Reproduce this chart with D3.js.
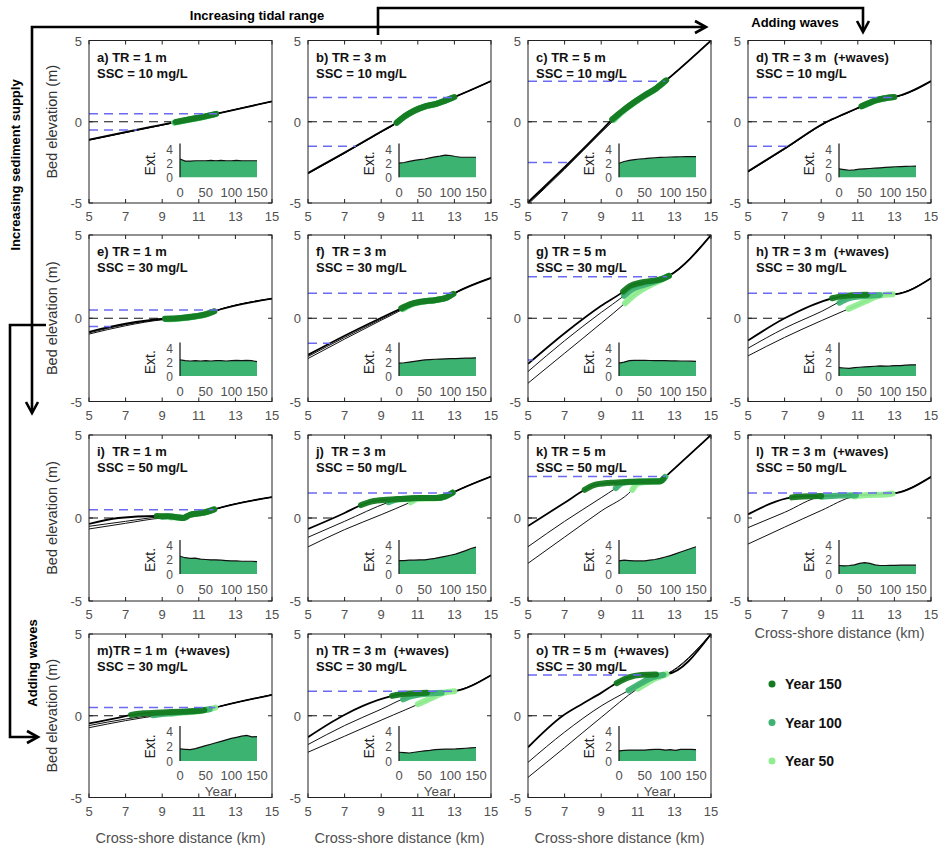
<!DOCTYPE html>
<html><head><meta charset="utf-8">
<script src="https://cdn.jsdelivr.net/npm/d3@7"></script>
<style>body{margin:0;background:#fff} text{font-family:"Liberation Sans",Arial,sans-serif;white-space:pre}</style>
</head><body><svg id="c" width="942" height="845"></svg>
<script>
// ---------------- DATA ----------------
const panelLabels = ["a) TR = 1 m","b) TR = 3 m","c) TR = 5 m","d) TR = 3 m  (+waves)",
  "e) TR = 1 m","f)  TR = 3 m","g) TR = 5 m","h) TR = 3 m  (+waves)",
  "i)  TR = 1 m","j)  TR = 3 m","k) TR = 5 m","l)  TR = 3 m  (+waves)",
  "m)TR = 1 m  (+waves)","n) TR = 3 m  (+waves)","o) TR = 5 m  (+waves)"];
const sscLabels = ["SSC = 10 mg/L","SSC = 10 mg/L","SSC = 10 mg/L","SSC = 10 mg/L",
  "SSC = 30 mg/L","SSC = 30 mg/L","SSC = 30 mg/L","SSC = 30 mg/L",
  "SSC = 50 mg/L","SSC = 50 mg/L","SSC = 50 mg/L","SSC = 50 mg/L",
  "SSC = 30 mg/L","SSC = 30 mg/L","SSC = 30 mg/L"];
const tidalRange = [1,3,5,3, 1,3,5,3, 1,3,5,3, 1,3,5];

// bed profiles [distance km, elevation m]
const profile150 = [
  [[5,-1.1],[9.7,-0.02],[10.5,0.15],[11.2,0.3],[12,0.5],[15,1.25]],
  [[5,-3.15],[7,-1.9],[9,-0.6],[9.85,-0.05],[10.3,0.35],[10.8,0.68],[11.4,0.95],[12,1.1],[12.5,1.3],[13,1.52],[15,2.5]],
  [[5,-4.95],[7,-2.8],[9,-0.55],[9.6,0.15],[10.2,0.7],[10.8,1.2],[11.4,1.65],[12,2.05],[12.55,2.55],[15,5]],
  [[5,-3.05],[7,-1.65],[9.3,0],[10.3,0.5],[11.2,0.95],[11.6,1.15],[12,1.33],[12.5,1.45],[13,1.52],[15,2.5]],
  [[5,-0.82],[6.2,-0.5],[7,-0.33],[9.1,-0.03],[10,0.02],[10.8,0.12],[11.4,0.25],[11.85,0.42],[15,1.18]],
  [[5,-2.2],[7,-1.05],[8.95,0],[10.1,0.6],[10.6,0.85],[11.2,1.0],[12,1.1],[12.6,1.25],[13,1.5],[15,2.42]],
  [[5,-2.74],[7,-0.9],[9,0.75],[10.2,1.6],[10.6,1.95],[11.2,2.15],[11.8,2.25],[12.3,2.35],[12.7,2.55],[15,5]],
  [[5,-1.34],[7,0],[9.6,1.2],[10,1.3],[11,1.4],[12,1.42],[13.05,1.45],[15,2.4]],
  [[5,-0.36],[6.6,0],[8.7,0.12],[9.3,0.1],[9.8,0.05],[10.15,0],[10.5,0.18],[11,0.28],[11.4,0.36],[11.85,0.52],[15,1.26]],
  [[5,-0.66],[7,0.3],[7.9,0.78],[8.5,1.0],[9.3,1.1],[10,1.15],[11,1.2],[12,1.2],[12.5,1.3],[12.95,1.55],[15,2.5]],
  [[5,-0.48],[7,0.92],[8.1,1.7],[8.6,1.98],[9.5,2.12],[10.5,2.18],[11.5,2.2],[12.25,2.22],[12.55,2.52],[15,5]],
  [[5,0.22],[7.38,1.24],[8,1.3],[9,1.32],[10,1.35],[11,1.38],[12,1.42],[13.05,1.5],[15,2.48]],
  [[5,-0.47],[6.5,-0.15],[7.3,0.05],[8,0.15],[9,0.2],[10,0.25],[11,0.3],[11.5,0.38],[11.97,0.52],[15,1.28]],
  [[5,-1.31],[6.9,0],[8,0.6],[9.55,1.2],[10,1.3],[11,1.38],[12,1.42],[13,1.5],[15,2.48]],
  [[5,-1.93],[6.9,0],[8,0.75],[9,1.4],[9.85,2.0],[10.5,2.35],[11.2,2.5],[12.57,2.55],[15,5]]
];
const profile100 = [
  [[5,-1.12],[9.7,-0.04],[10.5,0.14],[11.2,0.29],[12,0.5],[15,1.25]],
  [[5,-3.18],[7,-1.92],[9,-0.62],[9.85,-0.06],[10.3,0.34],[10.8,0.67],[11.4,0.94],[12,1.1],[12.5,1.3],[13,1.52],[15,2.5]],
  [[5,-5.02],[7,-2.86],[9,-0.6],[9.62,0.1],[10.2,0.68],[10.8,1.18],[11.4,1.63],[12,2.04],[12.55,2.55],[15,5]],
  [[5,-3.08],[7,-1.67],[9.3,-0.02],[10.3,0.49],[11.2,0.94],[11.6,1.14],[12,1.32],[12.5,1.45],[13,1.52],[15,2.5]],
  [[5,-0.88],[7,-0.38],[9.1,-0.05],[10,0.0],[10.8,0.11],[11.4,0.24],[11.85,0.42],[15,1.18]],
  [[5,-2.3],[7,-1.15],[9,-0.05],[10.15,0.58],[10.6,0.83],[11.2,0.99],[12,1.1],[12.6,1.25],[13,1.5],[15,2.42]],
  [[5,-3.2],[7,-1.35],[9,0.35],[10.25,1.35],[10.7,1.75],[11.3,2.0],[11.9,2.2],[12.4,2.4],[12.7,2.55],[15,5]],
  [[5,-1.8],[7,-0.6],[9,0.4],[10.5,1.2],[11.5,1.35],[12.5,1.42],[13.05,1.45],[15,2.4]],
  [[5,-0.5],[7,-0.2],[9,0.08],[9.3,0.1],[9.8,0.05],[10.15,0],[10.5,0.18],[11,0.28],[11.4,0.36],[11.85,0.52],[15,1.26]],
  [[5,-1.16],[7,-0.2],[9.4,0.95],[9.8,1.1],[10.5,1.16],[11,1.2],[12,1.2],[12.5,1.3],[12.95,1.55],[15,2.5]],
  [[5,-1.73],[7,-0.2],[9,1.22],[9.8,1.8],[10.2,2.12],[10.8,2.17],[11.5,2.2],[12.25,2.22],[12.55,2.52],[15,5]],
  [[5,-0.58],[7,0.34],[9,1.28],[10,1.35],[11,1.38],[12,1.42],[13.05,1.5],[15,2.48]],
  [[5,-0.6],[7,-0.2],[9,0.1],[10,0.22],[11,0.3],[11.5,0.38],[11.97,0.52],[15,1.28]],
  [[5,-1.76],[7,-0.6],[9,0.4],[10.5,1.15],[11.5,1.35],[12.5,1.42],[13,1.5],[15,2.48]],
  [[5,-2.85],[7,-1.0],[9,0.6],[10.5,1.55],[11.1,1.95],[11.8,2.35],[12.57,2.55],[15,5]]
];
const profile50 = [
  [[5,-1.14],[9.7,-0.05],[10.5,0.13],[11.2,0.28],[12,0.5],[15,1.25]],
  [[5,-3.2],[7,-1.94],[9,-0.64],[9.85,-0.07],[10.3,0.33],[10.8,0.66],[11.4,0.93],[12,1.09],[12.5,1.3],[13,1.52],[15,2.5]],
  [[5,-5.08],[7,-2.92],[9,-0.66],[9.65,0.05],[10.2,0.66],[10.8,1.16],[11.4,1.61],[12,2.03],[12.55,2.55],[15,5]],
  [[5,-3.1],[7,-1.69],[9.3,-0.04],[10.3,0.48],[11.2,0.93],[11.6,1.13],[12,1.31],[12.5,1.45],[13,1.52],[15,2.5]],
  [[5,-0.95],[7,-0.45],[9.1,-0.08],[10,-0.01],[10.8,0.1],[11.4,0.23],[11.85,0.42],[15,1.18]],
  [[5,-2.42],[7,-1.25],[9,-0.12],[10.2,0.55],[10.6,0.8],[11.2,0.98],[12,1.09],[12.6,1.25],[13,1.5],[15,2.42]],
  [[5,-3.9],[7,-2.1],[9,-0.3],[10.3,0.9],[10.7,1.3],[11.2,1.7],[11.8,2.05],[12.3,2.3],[12.7,2.55],[15,5]],
  [[5,-2.26],[7,-1.15],[9,-0.15],[11.4,1.0],[12,1.3],[12.6,1.42],[13.05,1.45],[15,2.4]],
  [[5,-0.66],[7,-0.32],[9,0.0],[9.8,0.04],[10.15,0],[10.5,0.18],[11,0.28],[11.4,0.36],[11.85,0.52],[15,1.26]],
  [[5,-1.74],[7,-0.7],[9,0.2],[10.6,0.95],[11.0,1.15],[12,1.19],[12.5,1.3],[12.95,1.55],[15,2.5]],
  [[5,-2.73],[7,-1.15],[9,0.42],[10.7,1.7],[11.0,2.08],[11.6,2.18],[12.25,2.22],[12.55,2.52],[15,5]],
  [[5,-1.57],[7,-0.55],[9,0.45],[10.8,1.3],[11.5,1.38],[12.5,1.42],[13.05,1.5],[15,2.48]],
  [[5,-0.73],[7,-0.3],[9,0.05],[10,0.18],[11,0.28],[11.5,0.38],[11.97,0.52],[15,1.28]],
  [[5,-2.23],[7,-1.25],[9,-0.27],[11.7,1.05],[12.2,1.32],[12.6,1.45],[13,1.5],[15,2.48]],
  [[5,-3.77],[7,-1.95],[9,-0.1],[11.0,1.66],[11.5,2.0],[12.0,2.3],[12.57,2.55],[15,5]]
];
// vegetated marsh extent [from km, to km]
const marsh150 = [[9.75,11.95],[9.85,13.0],[9.6,12.55],[11.2,13.0],[9.15,11.85],[10.1,12.95],[10.2,12.7],[9.6,11.5],
  [8.7,11.85],[7.9,12.9],[8.1,12.4],[7.4,9.0],[7.3,11.3],[9.6,11.5],[9.85,12.0]];
const marsh100 = [[9.7,11.9],[9.85,12.9],[9.65,12.5],[11.25,12.9],[9.2,11.8],[10.15,12.9],[10.25,12.7],[10.0,12.2],
  [9.0,11.8],[9.4,12.9],[9.8,12.5],[9.0,10.9],[8.5,11.6],[10.2,12.3],[10.5,12.4]];
const marsh50 = [[9.65,11.85],[9.85,12.8],[9.7,12.45],[11.3,12.8],[9.3,11.7],[10.2,12.8],[10.3,12.7],[10.5,12.9],
  [9.5,11.75],[10.6,12.9],[10.7,12.5],[10.8,12.9],[9.5,11.9],[11.0,13.0],[11.0,12.57]];

// marsh extent time series (inset), years 0..150
const extentYears = [0,10,20,30,40,50,60,70,80,90,100,110,120,130,140,150];
const extent = [
  [2.6,2.3,2.3,2.35,2.35,2.35,2.4,2.35,2.4,2.35,2.35,2.4,2.35,2.35,2.35,2.35],
  [2.0,2.1,2.25,2.4,2.5,2.6,2.75,2.9,3.0,3.15,3.1,2.95,2.85,2.85,2.85,2.85],
  [2.0,2.25,2.4,2.5,2.6,2.65,2.72,2.78,2.82,2.85,2.88,2.9,2.92,2.95,2.95,2.95],
  [1.2,1.1,1.0,1.05,1.15,1.2,1.25,1.3,1.35,1.4,1.45,1.5,1.52,1.55,1.57,1.6],
  [2.3,2.2,2.15,2.2,2.15,2.2,2.15,2.2,2.2,2.15,2.2,2.25,2.2,2.25,2.2,2.05],
  [1.85,1.9,2.0,2.1,2.2,2.3,2.35,2.4,2.42,2.45,2.48,2.5,2.52,2.55,2.57,2.6],
  [1.85,2.0,2.2,2.25,2.25,2.25,2.22,2.2,2.2,2.2,2.18,2.18,2.15,2.15,2.12,2.1],
  [1.2,1.15,1.1,1.2,1.25,1.3,1.35,1.4,1.45,1.42,1.45,1.5,1.5,1.55,1.6,1.6],
  [2.5,2.3,2.2,2.25,2.1,2.05,2.0,2.0,1.95,1.9,1.85,1.85,1.8,1.8,1.8,1.75],
  [1.9,1.9,1.95,1.95,2.0,2.0,2.1,2.2,2.35,2.5,2.65,2.8,3.05,3.3,3.6,3.8],
  [1.85,1.95,1.9,1.85,1.85,1.85,1.95,2.05,2.2,2.4,2.6,2.85,3.1,3.35,3.6,3.85],
  [1.2,1.15,1.2,1.3,1.5,1.6,1.5,1.3,1.2,1.2,1.22,1.22,1.25,1.25,1.25,1.25],
  [1.65,1.6,1.55,1.7,1.9,2.1,2.3,2.5,2.7,2.9,3.1,3.25,3.4,3.5,3.3,3.35],
  [1.2,1.15,1.1,1.2,1.3,1.4,1.45,1.55,1.6,1.62,1.62,1.65,1.7,1.75,1.8,1.85],
  [1.4,1.45,1.5,1.5,1.5,1.5,1.55,1.6,1.6,1.5,1.55,1.45,1.6,1.6,1.6,1.55]
];
const xTicks = [5,7,9,11,13,15];
const yTicks = [-5,0,5];
const insetXTicks = [0,50,100,150];
const insetYTicks = [0,2,4];
const legendLabels = ["Year 150","Year 100","Year 50"];

// ---------------- DRAWING ----------------
const svg = d3.select("#c");
const colLeft = [89, 308, 528, 748], colW = 183;
const rowTop = [40.5, 235, 435, 634], rowBot = [203, 401.5, 601, 797.5];
const insTop = [143.5, 342.5, 540, 726], insBot = [177.3, 376, 574, 761];
const cDark = "#137a1f", cMed = "#3cb371", cLight = "#90ee90";
const legendColors = [cDark, cMed, cLight];
const blue = "#6a6af2", tickCol = "#505050";

function crossX(pts, level){
  if (pts[0][1] >= level) return null;
  for (let i=1;i<pts.length;i++){
    const [x0,z0]=pts[i-1],[x1,z1]=pts[i];
    if (z1>=level) return x0+(level-z0)/(z1-z0)*(x1-x0);
  }
  return null;
}
function zAt(pts, x){
  for (let i=1;i<pts.length;i++){
    if (x<=pts[i][0]){const [x0,z0]=pts[i-1],[x1,z1]=pts[i];return z0+(x-x0)/(x1-x0)*(z1-z0);}
  }
  return pts[pts.length-1][1];
}
function clipRange(pts,a,b){
  const out=[[a,zAt(pts,a)]];
  pts.forEach(p=>{if(p[0]>a&&p[0]<b)out.push(p);});
  out.push([b,zAt(pts,b)]);
  return out;
}
const defs = svg.append("defs");

panelLabels.forEach((lab,i)=>{
  const r=Math.floor(i/4), c=i%4;
  const L=colLeft[c], R=L+colW, T=rowTop[r], B=rowBot[r];
  const x=d3.scaleLinear().domain([5,15]).range([L,R]);
  const y=d3.scaleLinear().domain([-5,5]).range([B,T]);
  const ln=d3.line().x(d=>x(d[0])).y(d=>y(d[1])).curve(d3.curveMonotoneX);
  defs.append("clipPath").attr("id","cp"+i).append("rect").attr("x",L).attr("y",T).attr("width",colW).attr("height",B-T);
  const g=svg.append("g");
  const pg=g.append("g").attr("clip-path",`url(#cp${i})`);
  const p150=profile150[i];
  const tr=tidalRange[i];
  // mean sea level dashed
  const z0=crossX(p150,0);
  if(z0!==null) pg.append("line").attr("x1",x(5)).attr("x2",x(z0)).attr("y1",y(0)).attr("y2",y(0))
    .attr("stroke","#111").attr("stroke-width",1.1).attr("stroke-dasharray","9,6");
  // profiles
  [profile50[i],profile100[i]].forEach(p=>pg.append("path").attr("d",ln(p)).attr("fill","none").attr("stroke","#111").attr("stroke-width",1));
  pg.append("path").attr("d",ln(p150)).attr("fill","none").attr("stroke","#000").attr("stroke-width",1.8);
  // marsh
  [[profile50[i],marsh50[i],cLight],[profile100[i],marsh100[i],cMed],[p150,marsh150[i],cDark]].forEach(([p,m,col])=>{
    pg.append("path").attr("d",ln(clipRange(p,m[0],m[1]))).attr("fill","none").attr("stroke",col)
      .attr("stroke-width",6).attr("stroke-linecap","round").attr("stroke-linejoin","round").attr("opacity",0.95);
  });
  // tidal levels
  [-tr/2,tr/2].forEach(lv=>{
    const xc=crossX(p150,lv);
    if(xc!==null) pg.append("line").attr("x1",x(5)).attr("x2",x(xc)).attr("y1",y(lv)).attr("y2",y(lv))
      .attr("stroke",blue).attr("stroke-width",1.5).attr("stroke-dasharray","9,6");
  });
  // frame + ticks
  g.append("rect").attr("x",L).attr("y",T).attr("width",colW).attr("height",B-T).attr("fill","none").attr("stroke","#222").attr("stroke-width",1);
  xTicks.forEach(t=>{
    g.append("line").attr("x1",x(t)).attr("x2",x(t)).attr("y1",B).attr("y2",B-4).attr("stroke","#222");
    g.append("line").attr("x1",x(t)).attr("x2",x(t)).attr("y1",T).attr("y2",T+4).attr("stroke","#222");
    g.append("text").attr("x",x(t)).attr("y",B+18).attr("text-anchor","middle").attr("font-size",13).attr("fill",tickCol).text(t);
  });
  yTicks.forEach(t=>{
    g.append("line").attr("x1",L).attr("x2",L+4).attr("y1",y(t)).attr("y2",y(t)).attr("stroke","#222");
    g.append("line").attr("x1",R).attr("x2",R-4).attr("y1",y(t)).attr("y2",y(t)).attr("stroke","#222");
    g.append("text").attr("x",L-7).attr("y",y(t)+5).attr("text-anchor","end").attr("font-size",13).attr("fill",tickCol).text(t);
  });
  // titles
  g.append("text").attr("x",L+8).attr("y",T+21).attr("font-size",13).attr("font-weight","bold").attr("fill","#111").text(lab);
  g.append("text").attr("x",L+8).attr("y",T+37).attr("font-size",13).attr("font-weight","bold").attr("fill","#111").text(sscLabels[i]);
  // inset
  const iL=L+91, iR=L+168, iB=insBot[r], iT=insTop[r];
  const xi=d3.scaleLinear().domain([0,150]).range([iL,iR]);
  const yi=d3.scaleLinear().domain([0,4.8]).range([iB,iT]);
  const ev=extent[i].map((v,k)=>[extentYears[k],v]);
  g.append("path").attr("d",d3.area().x(d=>xi(d[0])).y0(yi(0)).y1(d=>yi(d[1]))(ev)).attr("fill","#3cb371");
  g.append("path").attr("d",d3.line().x(d=>xi(d[0])).y(d=>yi(d[1]))(ev)).attr("fill","none").attr("stroke","#111").attr("stroke-width",1.2);
  g.append("line").attr("x1",iL).attr("x2",iL).attr("y1",iB).attr("y2",iT).attr("stroke","#111").attr("stroke-width",1.2);
  insetYTicks.forEach(t=>g.append("text").attr("x",iL-7).attr("y",yi(t)+4.5).attr("text-anchor","end").attr("font-size",12).attr("fill",tickCol).text(t));
  insetXTicks.forEach(t=>g.append("text").attr("x",xi(t)).attr("y",iB+(r===3?18.5:20)).attr("text-anchor","middle").attr("font-size",13).attr("fill",tickCol).text(t));
  g.append("text").attr("transform",`translate(${iL-25},${(iB+iT)/2+3}) rotate(-90)`).attr("text-anchor","middle").attr("font-size",14).attr("fill","#222").text("Ext.");
  if(r===3) g.append("text").attr("x",(iL+iR)/2).attr("y",iB+34.5).attr("text-anchor","middle").attr("font-size",13.5).attr("fill",tickCol).text("Year");
  if(c===0) g.append("text").attr("transform",`translate(${L-32},${(T+B)/2}) rotate(-90)`).attr("text-anchor","middle").attr("font-size",14.5).attr("fill","#333").text("Bed elevation (m)");
  if(r===3 || i===11) g.append("text").attr("x",(L+R)/2).attr("y",B+(r===3?45:37)).attr("text-anchor","middle").attr("font-size",14.5).attr("fill",tickCol).text("Cross-shore distance (km)");
});

// legend
legendLabels.forEach((t,k)=>{
  const yy=684+k*38.5;
  svg.append("circle").attr("cx",772).attr("cy",yy).attr("r",3.5).attr("fill",legendColors[k]);
  svg.append("text").attr("x",785).attr("y",yy+5).attr("font-size",14).attr("font-weight","bold").attr("fill","#111").text(t);
});

// annotation arrows
const arr=svg.append("g").attr("fill","none").attr("stroke","#000").attr("stroke-width",2.6).attr("stroke-linejoin","miter");
arr.append("path").attr("d","M32,412 L32,27 L705,27");
arr.append("path").attr("d","M695,21 L706,27 L695,33");
arr.append("path").attr("d","M378,35 L378,8 L863,8 L863,31");
arr.append("path").attr("d","M857,21 L863,32 L869,21");
arr.append("path").attr("d","M26,402 L32,413 L38,402");
arr.append("path").attr("d","M46,325 L10,325 L10,737 L37,737");
arr.append("path").attr("d","M27,731 L38,737 L27,743");
svg.append("text").attr("x",257).attr("y",20).attr("text-anchor","middle").attr("font-size",13).attr("font-weight","bold").text("Increasing tidal range");
svg.append("text").attr("x",795).attr("y",27).attr("text-anchor","middle").attr("font-size",13).attr("font-weight","bold").text("Adding waves");
svg.append("text").attr("transform","translate(20,165) rotate(-90)").attr("text-anchor","middle").attr("font-size",13).attr("font-weight","bold").text("Increasing sediment supply");
svg.append("text").attr("transform","translate(37,663) rotate(-90)").attr("text-anchor","middle").attr("font-size",13).attr("font-weight","bold").text("Adding waves");
</script></body></html>
